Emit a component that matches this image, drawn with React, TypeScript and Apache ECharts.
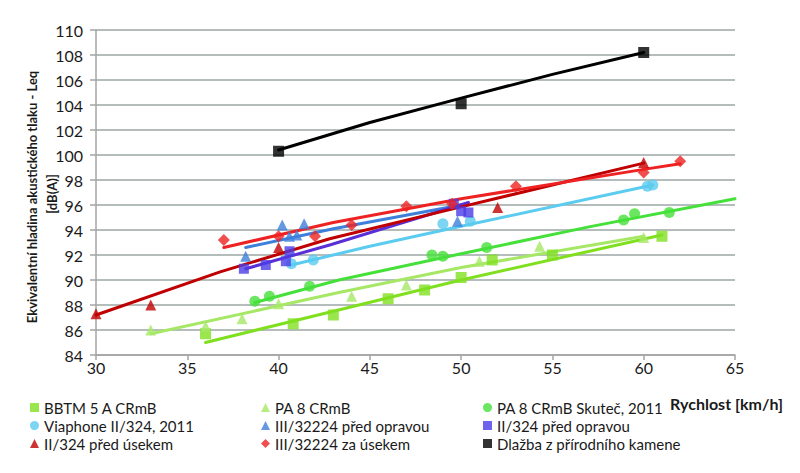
import React, { useEffect, useRef } from "react";
import * as echarts from "echarts";

// Scatter data: [speed km/h, Leq dB(A)]
const bbtm = [[36, 85.7], [40.8, 86.5], [43, 87.2], [46, 88.5], [48, 89.2], [50, 90.2], [51.7, 91.6], [55, 92.0], [61, 93.5]];
const pa8 = [[33, 86.0], [36, 86.3], [38, 86.9], [40, 88.1], [44, 88.7], [47, 89.6], [51, 91.5], [54.3, 92.7], [60, 93.4]];
const pa8Skutec = [[38.7, 88.3], [39.5, 88.7], [41.7, 89.5], [48.4, 92.0], [49, 91.9], [51.4, 92.6], [58.9, 94.8], [59.5, 95.3], [61.4, 95.4]];
const viaphone = [[40.7, 91.3], [41.9, 91.6], [49, 94.5], [50.5, 94.7], [60.2, 97.5], [60.5, 97.6]];
const iii32224Pred = [[38.2, 91.9], [40.2, 94.4], [40.6, 93.5], [41, 93.6], [41.4, 94.5], [49.8, 94.7]];
const ii324Pred = [[38.1, 90.9], [39.3, 91.2], [40.4, 91.5], [40.6, 92.3], [49.6, 96.1], [50, 95.5], [50.4, 95.4]];
const ii324Usek = [[30, 87.3], [33, 88.0], [40, 92.6], [52, 95.8], [60, 99.4]];
const iii32224Za = [[37, 93.2], [40, 93.5], [42, 93.5], [44, 94.4], [47, 95.9], [49.5, 96.1], [53, 97.5], [60, 98.6], [62, 99.5]];
const dlazba = [[40, 100.3], [50, 104.1], [60, 108.2]];

// Trend lines
const tBbtm = [[36, 85.0], [43, 87.5], [50, 90.0], [61, 93.6]];
const tPa8 = [[33, 85.7], [43.3, 89.0], [50, 91.0], [60, 93.5]];
const tPa8Skutec = [[38.7, 88.2], [43.3, 90.0], [50, 92.1], [57, 94.25], [65, 96.5]];
const tViaphone = [[40.7, 91.2], [45, 92.7], [50, 94.3], [60.5, 97.6]];
const tIii32224Pred = [[38.2, 92.6], [43, 94.1], [50, 96.0]];
const tIi324Pred = [[38.2, 90.9], [42.8, 92.8], [50.4, 96.2]];
const tIi324Usek = [[30, 87.2], [36.8, 90.65], [42.8, 93.3], [50, 95.85], [60, 99.35]];
const tIii32224Za = [[37, 92.6], [43, 94.6], [50, 96.5], [60, 98.85], [62, 99.3]];
const tDlazba = [[40, 100.4], [45, 102.6], [50, 104.55], [55, 106.45], [60, 108.2]];

const xTicks = { min: 30, max: 65, interval: 5 };
const yTicks = { min: 84, max: 110, interval: 2 };

const FONT = "Lato";

const seriesDefs = [
  { name: "BBTM 5 A CRmB", data: bbtm, trend: tBbtm, color: "#80E020", line: "#80E020", symbol: "rect", size: 11, icon: "rect" },
  { name: "PA 8 CRmB", data: pa8, trend: tPa8, color: "#A6E866", line: "#A6E866", symbol: "triangle", size: 11, icon: "triangle" },
  { name: "PA 8 CRmB Skuteč, 2011", data: pa8Skutec, trend: tPa8Skutec, color: "#45E03A", line: "#45E03A", symbol: "circle", size: 11, icon: "circle" },
  { name: "Viaphone II/324, 2011", data: viaphone, trend: tViaphone, color: "#5BCBF0", line: "#5BCBF0", symbol: "circle", size: 11, icon: "circle" },
  { name: "III/32224 před opravou", data: iii32224Pred, trend: tIii32224Pred, color: "#3D7FDB", line: "#3D7FDB", symbol: "triangle", size: 11, icon: "triangle" },
  { name: "II/324 před opravou", data: ii324Pred, trend: tIi324Pred, color: "#4C3CE6", line: "#5A30D6", symbol: "rect", size: 10, icon: "rect" },
  { name: "II/324 před úsekem", data: ii324Usek, trend: tIi324Usek, color: "#C00000", line: "#C00000", symbol: "triangle", size: 11, icon: "triangle" },
  { name: "III/32224 za úsekem", data: iii32224Za, trend: tIii32224Za, color: "#EE2222", line: "#EE2222", symbol: "diamond", size: 12, icon: "diamond" },
  { name: "Dlažba z přírodního kamene", data: dlazba, trend: tDlazba, color: "#000000", line: "#000000", symbol: "rect", size: 11, icon: "rect" },
];

const legendCols = [
  { left: 30, names: ["BBTM 5 A CRmB", "Viaphone II/324, 2011", "II/324 před úsekem"] },
  { left: 261, names: ["PA 8 CRmB", "III/32224 před opravou", "III/32224 za úsekem"] },
  { left: 483, names: ["PA 8 CRmB Skuteč, 2011", "II/324 před opravou", "Dlažba z přírodního kamene"] },
];

export default function App() {
  const ref = useRef<HTMLDivElement>(null);
  useEffect(() => {
    document.body.style.margin = "0";
    const chart = echarts.init(ref.current!, null, { renderer: "svg" });
    const series: any[] = [];
    seriesDefs.forEach((s) => {
      series.push({
        name: "trend " + s.name,
        type: "line",
        data: s.trend,
        smooth: false,
        showSymbol: false,
        symbol: "none",
        lineStyle: { color: s.line, width: 3, join: "round", cap: "round" },
        z: 2,
        silent: true,
      });
    });
    seriesDefs.forEach((s) => {
      series.push({
        name: s.name,
        type: "scatter",
        data: s.data,
        symbol: s.symbol,
        symbolSize: s.size,
        itemStyle: { color: s.color },
        z: 3,
      });
    });
    const byName: any = {};
    seriesDefs.forEach((s) => (byName[s.name] = s));
    chart.setOption({
      animation: false,
      textStyle: { fontFamily: FONT },
      grid: { left: 96, top: 30, width: 639, height: 325, containLabel: false },
      xAxis: {
        type: "value",
        min: xTicks.min,
        max: xTicks.max,
        interval: xTicks.interval,
        axisLine: { show: true, lineStyle: { color: "#A4A4A4", width: 1.5 } },
        axisTick: { show: true, length: 5, lineStyle: { color: "#A4A4A4", width: 1.5 } },
        axisLabel: { fontSize: 16, color: "#1a1a1a", fontFamily: FONT, margin: 4 },
        splitLine: { show: false },
      },
      yAxis: {
        type: "value",
        min: yTicks.min,
        max: yTicks.max,
        interval: yTicks.interval,
        axisLine: { show: true, lineStyle: { color: "#A4A4A4", width: 1.5 } },
        axisTick: { show: true, length: 6, lineStyle: { color: "#A4A4A4", width: 1.5 } },
        axisLabel: { fontSize: 16, color: "#1a1a1a", fontFamily: FONT, margin: 13 },
        splitLine: { show: true, lineStyle: { color: "#9BA6A6", width: 1.5 } },
      },
      legend: legendCols.map((c) => ({
        orient: "vertical",
        left: c.left,
        top: 399,
        padding: 0,
        itemWidth: 9,
        itemHeight: 9,
        itemGap: 1,
        itemTextGap: 5,
        textStyle: { fontSize: 15, color: "#1a1a1a", fontFamily: FONT, lineHeight: 17 },
        data: c.names.map((n) => ({ name: n, icon: byName[n].icon })),
        selectedMode: false,
      })),
      graphic: [
        {
          type: "text",
          x: 32,
          y: 197,
          rotation: Math.PI / 2,
          style: {
            text: "Ekvivalentní hladina akustického tlaku - Leq",
            fontSize: 13,
            fontWeight: "bold",
            fontFamily: FONT,
            fill: "#1a1a1a",
            textAlign: "center",
            textVerticalAlign: "middle",
          },
        },
        {
          type: "text",
          x: 52,
          y: 194,
          rotation: Math.PI / 2,
          style: {
            text: "[dB(A)]",
            fontSize: 13,
            fontWeight: "bold",
            fontFamily: FONT,
            fill: "#1a1a1a",
            textAlign: "center",
            textVerticalAlign: "middle",
          },
        },
        {
          type: "text",
          x: 783,
          y: 403,
          style: {
            text: "Rychlost [km/h]",
            fontSize: 16,
            fontWeight: "bold",
            fontFamily: FONT,
            fill: "#1a1a1a",
            textAlign: "right",
            textVerticalAlign: "middle",
          },
        },
      ],
      series,
    });
    return () => chart.dispose();
  }, []);
  return <div ref={ref} style={{ width: 800, height: 473 }} />;
}
